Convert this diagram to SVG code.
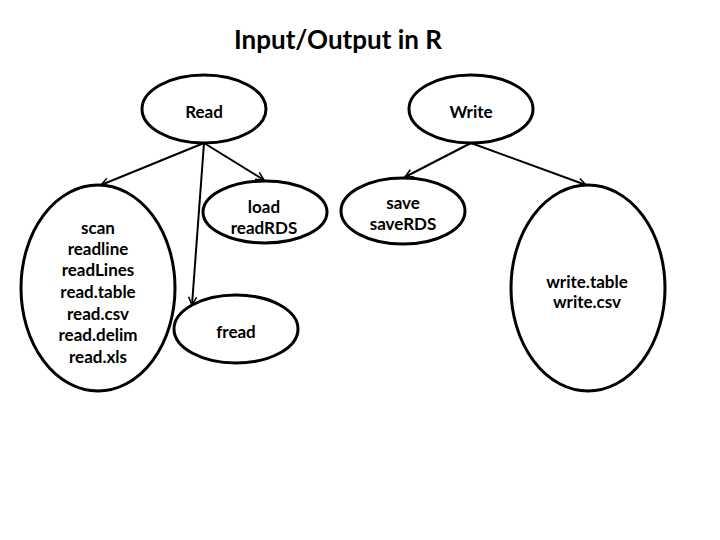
<svg xmlns="http://www.w3.org/2000/svg" width="720" height="540" viewBox="0 0 720 540">
<style>
.n{fill:#fff;stroke:#000;stroke-width:3}
.t{font-family:Lato,"Liberation Sans",sans-serif;font-weight:bold;font-size:17px;text-anchor:middle;fill:#000}
.c{stroke:#000;stroke-width:2;fill:none;marker-end:url(#a)}
</style>
<defs>
<marker id="a" viewBox="0 0 10 10" refX="9" refY="5" markerWidth="10" markerHeight="10" markerUnits="userSpaceOnUse" orient="auto">
<path d="M1,1 L9,5 L1,9" fill="none" stroke="#000" stroke-width="1.6"/>
</marker>
</defs>
<rect width="720" height="540" fill="#fff"/>
<text x="338" y="49" class="t" style="font-size:26px">Input/Output in R</text>
<g id="connectors">
<line class="c" x1="204" y1="143" x2="101" y2="185"/>
<line class="c" x1="204" y1="143" x2="264" y2="180"/>
<line class="c" x1="204" y1="143" x2="192" y2="305"/>
<line class="c" x1="471" y1="143" x2="405" y2="177"/>
<line class="c" x1="471" y1="143" x2="586" y2="185"/>
</g>
<g id="read"><ellipse class="n" cx="204" cy="109" rx="62" ry="34"/><text class="t" x="204" y="118">Read</text></g>
<g id="write"><ellipse class="n" cx="471" cy="109" rx="62" ry="34"/><text class="t" x="471" y="118">Write</text></g>
<g id="load"><ellipse class="n" cx="265" cy="212" rx="62" ry="31"/><text class="t" x="264" y="213">load</text><text class="t" x="264" y="234">readRDS</text></g>
<g id="save"><ellipse class="n" cx="403" cy="211" rx="62" ry="33"/><text class="t" x="403" y="209">save</text><text class="t" x="403" y="230">saveRDS</text></g>
<g id="readfuncs"><ellipse class="n" cx="98" cy="288" rx="77" ry="103"/>
<text class="t" x="98" y="234">scan</text>
<text class="t" x="98" y="255">readline</text>
<text class="t" x="98" y="276">readLines</text>
<text class="t" x="98" y="298">read.table</text>
<text class="t" x="98" y="320">read.csv</text>
<text class="t" x="98" y="341">read.delim</text>
<text class="t" x="98" y="363">read.xls</text>
</g>
<g id="fread"><ellipse class="n" cx="236" cy="329" rx="62" ry="34"/><text class="t" x="236" y="338">fread</text></g>
<g id="writefuncs"><ellipse class="n" cx="588" cy="288" rx="77" ry="103"/><text class="t" x="587" y="288">write.table</text><text class="t" x="587" y="308">write.csv</text></g>
</svg>
